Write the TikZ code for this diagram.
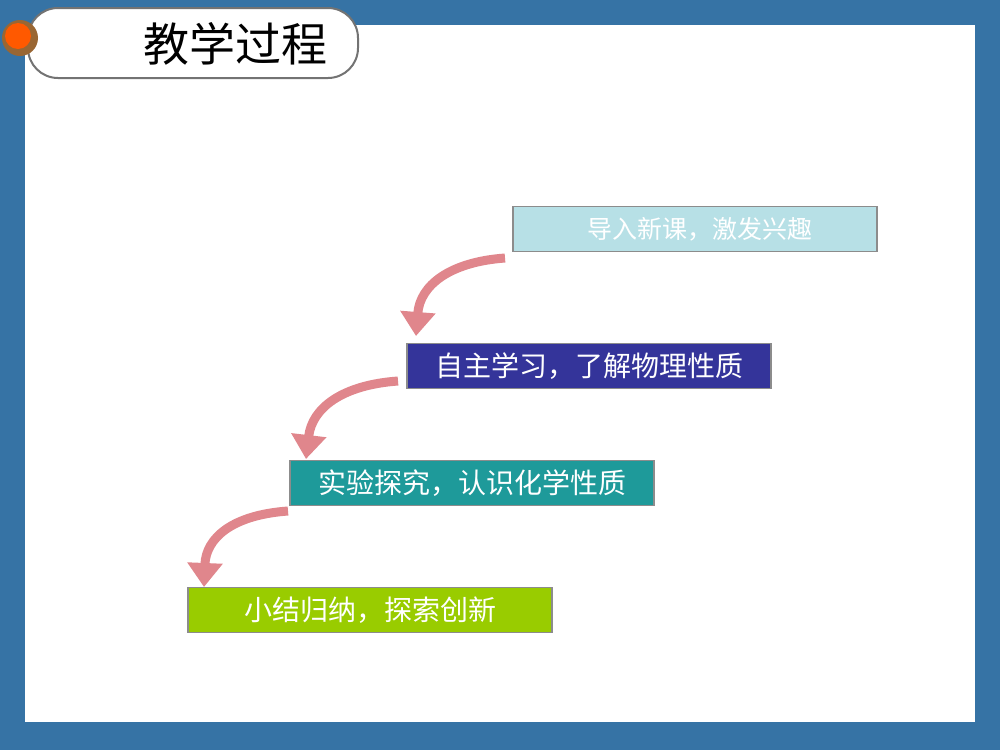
\documentclass[tikz,border=0pt]{standalone}
\usepackage{fontspec}
\newfontfamily\cjk{Noto Sans CJK SC}
\usetikzlibrary{arrows.meta,positioning}
\definecolor{frameblue}{HTML}{3673A5}
\definecolor{stepone}{HTML}{B7E0E6}
\definecolor{steptwo}{HTML}{34349A}
\definecolor{stepthree}{HTML}{1E9A9A}
\definecolor{stepfour}{HTML}{99CC00}
\definecolor{arrowpink}{HTML}{E0868C}
\tikzset{
  stepbox/.style={minimum width=364pt,minimum height=45pt,inner sep=0pt,
    text=white,font=\cjk\fontsize{28pt}{28pt}\selectfont,draw=black!45,line width=1.5pt},
  curlarrow/.style={line width=9pt,draw=arrowpink,-{Triangle[width=34pt,length=24pt]}}
}
\begin{document}
\begin{tikzpicture}[x=1pt,y=-1pt]
  \useasboundingbox (0,0) rectangle (1000,750);
  \fill[frameblue] (0,0) rectangle (1000,750);
  \fill[white] (25,25) rectangle (975,722);

  % title tab
  \draw[fill=white,draw=black!55,line width=2pt,rounded corners=30pt] (28,8) rectangle (358,78);
  \fill[brown!80!black] (20,38) circle (18);
  \fill[orange!70!red] (18,36) circle (13);
  \node (title) at (235,44) {\cjk\fontsize{46pt}{46pt}\selectfont 教学过程};

  % steps
  \node[stepbox,fill=stepone,font=\cjk\fontsize{25pt}{25pt}\selectfont] (s1) at (695,229) {\hspace*{10pt}导入新课，激发兴趣};
  \node[stepbox,fill=steptwo] (s2) at (589,366) {自主学习，了解物理性质};
  \node[stepbox,fill=stepthree] (s3) at (472,483) {实验探究，认识化学性质};
  \node[stepbox,fill=stepfour] (s4) at (370,610) {小结归纳，探索创新};

  \coordinate (a1) at (505,258);
  \coordinate (t1) at (416,336);
  \coordinate (a2) at (398,381);
  \coordinate (t2) at (306,459);
  \coordinate (a3) at (288,511);
  \coordinate (t3) at (204,587);

  \draw[curlarrow] (a1) .. controls (450,262) and (420,285) .. (t1);
  \draw[curlarrow] (a2) .. controls (342,385) and (312,408) .. (t2);
  \draw[curlarrow] (a3) .. controls (232,515) and (206,538) .. (t3);
\end{tikzpicture}
\end{document}
